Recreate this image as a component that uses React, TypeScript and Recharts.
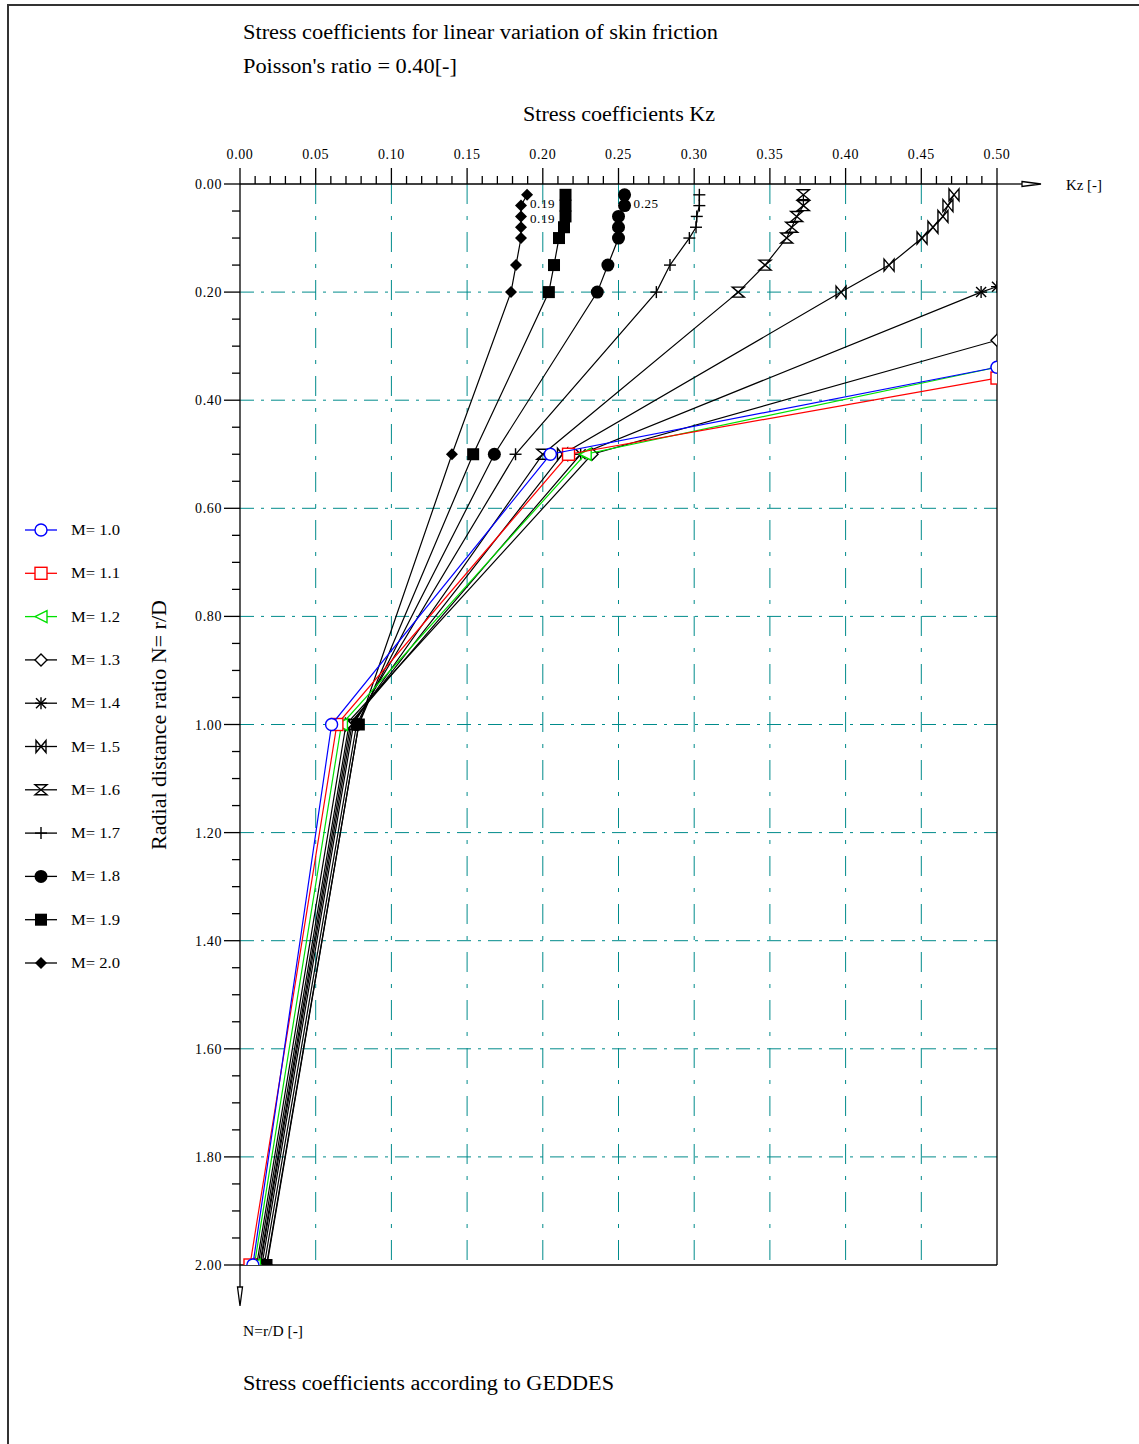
import React from 'react';
import { ScatterChart, Scatter, XAxis, YAxis, ReferenceLine } from 'recharts';

// depth ratios N = r/D used by the stiff-pile curves (M = 1.5 ... 2.0)
const depthFull = [0.02, 0.04, 0.06, 0.08, 0.10, 0.15, 0.20, 0.50, 1.00, 2.00];

// Kz per curve, matched to the depths above
const kzM20 = [0.1896, 0.1856, 0.1856, 0.1856, 0.1856, 0.1823, 0.179, 0.140, 0.0785, 0.0178];
const kzM19 = [0.215, 0.215, 0.215, 0.214, 0.2107, 0.2074, 0.204, 0.154, 0.0785, 0.0175];
const kzM18 = [0.254, 0.254, 0.250, 0.250, 0.250, 0.243, 0.236, 0.168, 0.077, 0.016];
const kzM17 = [0.3034, 0.3034, 0.3017, 0.3012, 0.2968, 0.284, 0.275, 0.182, 0.075, 0.0145];
const kzM16 = [0.3721, 0.3721, 0.3677, 0.3644, 0.3611, 0.3468, 0.3291, 0.200, 0.074, 0.0135];
const kzM15 = [0.4716, 0.4676, 0.4643, 0.4577, 0.4505, 0.4287, 0.397, 0.213, 0.073, 0.013];

// curves that leave the plot at Kz = 0.50 (start where they cross the border)
const depthM14 = [0.19, 0.20, 0.50, 1.00, 2.00];
const kzM14 = [0.50, 0.4895, 0.225, 0.072, 0.012];
const depthM13 = [0.289, 0.50, 1.00, 2.00];
const kzM13 = [0.50, 0.2325, 0.070, 0.011];
const depthM12 = [0.339, 0.50, 1.00, 2.00];
const kzM12 = [0.50, 0.228, 0.067, 0.0095];
const depthM11 = [0.359, 0.50, 1.00, 2.00];
const kzM11 = [0.50, 0.217, 0.064, 0.0066];
const depthM10 = [0.339, 0.50, 1.00, 2.00];
const kzM10 = [0.50, 0.205, 0.0605, 0.0085];

// points annotated with their value
const taggedM20 = [0.04, 0.06];
const taggedM18 = [0.04];

const kzGrid = [0.05, 0.10, 0.15, 0.20, 0.25, 0.30, 0.35, 0.40, 0.45];
const nGrid = [0.2, 0.4, 0.6, 0.8, 1.0, 1.2, 1.4, 1.6, 1.8];

// every 0.01 on Kz and every 0.05 on N; labels only on the major ones
const kzTicks = Array.from({ length: 51 }, (_, i) => i / 100);
const nTicks = Array.from({ length: 41 }, (_, i) => i / 20);

type Pt = { kz: number; n: number; tag?: boolean; tagIdx?: number };

const build = (depths: number[], kz: number[], tagged: number[] = []): Pt[] =>
  depths.map((n, i) => ({ kz: kz[i], n, tag: tagged.includes(n), tagIdx: tagged.indexOf(n) }));

type Kind = 'circle' | 'square' | 'triangle' | 'diamond' | 'star' | 'bowtie' | 'hourglass' | 'plus' | 'disc' | 'block' | 'gem';

const series: { name: string; color: string; kind: Kind; data: Pt[] }[] = [
  { name: 'M= 1.0', color: '#0000ff', kind: 'circle', data: build(depthM10, kzM10) },
  { name: 'M= 1.1', color: '#ff0000', kind: 'square', data: build(depthM11, kzM11) },
  { name: 'M= 1.2', color: '#00e000', kind: 'triangle', data: build(depthM12, kzM12) },
  { name: 'M= 1.3', color: '#000000', kind: 'diamond', data: build(depthM13, kzM13) },
  { name: 'M= 1.4', color: '#000000', kind: 'star', data: build(depthM14, kzM14) },
  { name: 'M= 1.5', color: '#000000', kind: 'bowtie', data: build(depthFull, kzM15) },
  { name: 'M= 1.6', color: '#000000', kind: 'hourglass', data: build(depthFull, kzM16) },
  { name: 'M= 1.7', color: '#000000', kind: 'plus', data: build(depthFull, kzM17) },
  { name: 'M= 1.8', color: '#000000', kind: 'disc', data: build(depthFull, kzM18, taggedM18) },
  { name: 'M= 1.9', color: '#000000', kind: 'block', data: build(depthFull, kzM19) },
  { name: 'M= 2.0', color: '#000000', kind: 'gem', data: build(depthFull, kzM20, taggedM20) },
];

const FONT = '"Liberation Serif", "Times New Roman", serif';
const GRID = '#008b8b';

function Marker({ kind, cx, cy, color }: { kind: Kind; cx: number; cy: number; color: string }) {
  const sw = 1.4;
  switch (kind) {
    case 'circle':
      return <circle cx={cx} cy={cy} r={6} fill="#fff" stroke={color} strokeWidth={sw} />;
    case 'square':
      return <rect x={cx - 6} y={cy - 6} width={12} height={12} fill="#fff" stroke={color} strokeWidth={sw} />;
    case 'triangle':
      return <polygon points={`${cx - 6},${cy} ${cx + 6},${cy - 6} ${cx + 6},${cy + 6}`} fill="#fff" stroke={color} strokeWidth={sw} />;
    case 'diamond':
      return <polygon points={`${cx},${cy - 6} ${cx + 6},${cy} ${cx},${cy + 6} ${cx - 6},${cy}`} fill="#fff" stroke={color} strokeWidth={sw} />;
    case 'star':
      return (
        <g stroke={color} strokeWidth={sw}>
          <line x1={cx} y1={cy - 6} x2={cx} y2={cy + 6} />
          <line x1={cx - 6} y1={cy} x2={cx + 6} y2={cy} />
          <line x1={cx - 5} y1={cy - 5} x2={cx + 5} y2={cy + 5} />
          <line x1={cx - 5} y1={cy + 5} x2={cx + 5} y2={cy - 5} />
        </g>
      );
    case 'bowtie':
      return <path d={`M${cx - 5},${cy - 6}L${cx - 5},${cy + 6}L${cx + 5},${cy - 6}L${cx + 5},${cy + 6}Z`} fill="none" stroke={color} strokeWidth={sw} />;
    case 'hourglass':
      return <path d={`M${cx - 6},${cy - 5}L${cx + 6},${cy - 5}L${cx - 6},${cy + 5}L${cx + 6},${cy + 5}Z`} fill="none" stroke={color} strokeWidth={sw} />;
    case 'plus':
      return (
        <g stroke={color} strokeWidth={sw}>
          <line x1={cx} y1={cy - 6} x2={cx} y2={cy + 6} />
          <line x1={cx - 6} y1={cy} x2={cx + 6} y2={cy} />
        </g>
      );
    case 'disc':
      return <circle cx={cx} cy={cy} r={6.5} fill={color} />;
    case 'block':
      return <rect x={cx - 6} y={cy - 6} width={12} height={12} fill={color} />;
    case 'gem':
      return <polygon points={`${cx},${cy - 6} ${cx + 6},${cy} ${cx},${cy + 6} ${cx - 6},${cy}`} fill={color} />;
  }
  return null;
}

const isMajor = (v: number, step: number) => Math.abs(v / step - Math.round(v / step)) < 1e-6;

const KzTick = (props: any) => {
  const { x, y, payload } = props;
  const major = isMajor(payload.value, 0.05);
  return (
    <g>
      <line x1={x} x2={x} y1={y} y2={y - (major ? 16 : 8)} stroke="#000" strokeWidth={1.3} />
      {major && (
        <text x={x} y={y - 25} textAnchor="middle" fontFamily={FONT} fontSize={14} letterSpacing={0.6} fill="#000">
          {payload.value.toFixed(2)}
        </text>
      )}
    </g>
  );
};

const NTick = (props: any) => {
  const { x, y, payload } = props;
  const major = isMajor(payload.value, 0.2);
  return (
    <g>
      <line x1={x} x2={x - (major ? 16 : 8)} y1={y} y2={y} stroke="#000" strokeWidth={1.3} />
      {major && (
        <text x={x - 18} y={y + 5} textAnchor="end" fontFamily={FONT} fontSize={14} letterSpacing={0.6} fill="#000">
          {payload.value.toFixed(2)}
        </text>
      )}
    </g>
  );
};

function LegendBox() {
  return (
    <svg width={140} height={480} style={{ position: 'absolute', left: 0, top: 505 }}>
      {series.map((s, i) => {
        const cy = 25 + i * 43.3;
        return (
          <g key={s.name}>
            <line x1={25} x2={57} y1={cy} y2={cy} stroke={s.color} strokeWidth={1.3} />
            <Marker kind={s.kind} cx={41} cy={cy} color={s.color} />
            <text x={71} y={cy + 5} fontFamily={FONT} fontSize={15} textLength={49} lengthAdjust="spacingAndGlyphs" fill="#000">
              {s.name}
            </text>
          </g>
        );
      })}
    </svg>
  );
}

export default function App() {
  const drawOrder = [...series].reverse();
  return (
    <div style={{ position: 'absolute', left: 0, top: 0, width: 1139, height: 1444, background: '#fff', overflow: 'hidden', fontFamily: FONT }}>
      <div style={{ position: 'absolute', left: 7, top: 4, width: 1200, height: 1500, borderLeft: '2px solid #333', borderTop: '2px solid #333' }} />
      <ScatterChart width={1139} height={1444} margin={{ top: 144, left: 180, right: 142, bottom: 179 }} style={{ position: 'absolute', left: 0, top: 0 }}>
        <XAxis
          xAxisId={0}
          type="number"
          dataKey="kz"
          orientation="top"
          domain={[0, 0.5]}
          ticks={kzTicks}
          interval={0}
          height={40}
          tickSize={0}
          tickMargin={0}
          tick={<KzTick />}
          axisLine={{ stroke: '#000', strokeWidth: 1.3 }}
          tickLine={false}
          allowDataOverflow
        />
        <YAxis
          yAxisId={0}
          type="number"
          dataKey="n"
          reversed
          domain={[0, 2]}
          ticks={nTicks}
          interval={0}
          width={60}
          tickSize={0}
          tickMargin={0}
          tick={<NTick />}
          axisLine={{ stroke: '#000', strokeWidth: 1.3 }}
          tickLine={false}
          allowDataOverflow
        />
        {kzGrid.map((v) => (
          <ReferenceLine key={'gx' + v} x={v} stroke={GRID} strokeWidth={1} strokeDasharray="20 12 4 12" />
        ))}
        {nGrid.map((v) => (
          <ReferenceLine key={'gy' + v} y={v} stroke={GRID} strokeWidth={1} strokeDasharray="14 7 3 7" />
        ))}
        <ReferenceLine x={0.5} stroke="#000" strokeWidth={1.3} />
        <ReferenceLine y={2} stroke="#000" strokeWidth={1.3} />
        {drawOrder.map((s) => (
          <Scatter
            key={s.name}
            name={s.name}
            data={s.data}
            line={{ stroke: s.color, strokeWidth: 1.2 }}
            lineType="joint"
            isAnimationActive={false}
            shape={(p: any) => {
              const d = p.payload ?? p;
              // stacked value labels are nudged apart so they stay readable
              const nudge = d.tagIdx === 0 ? 2 : 7;
              return (
                <g>
                  <Marker kind={s.kind} cx={p.cx} cy={p.cy} color={s.color} />
                  {d.tag && (
                    <text x={p.cx + 9} y={p.cy + nudge} fontFamily={FONT} fontSize={13} letterSpacing={0.6} fill="#000">
                      {d.kz.toFixed(2)}
                    </text>
                  )}
                </g>
              );
            }}
          />
        ))}
      </ScatterChart>
      <svg width={1139} height={1444} style={{ position: 'absolute', left: 0, top: 0, pointerEvents: 'none' }}>
        <g fontFamily={FONT} fill="#000">
          <text x={243} y={39} fontSize={20} textLength={475} lengthAdjust="spacingAndGlyphs">
            Stress coefficients for linear variation of skin friction
          </text>
          <text x={243} y={73} fontSize={20} textLength={214} lengthAdjust="spacingAndGlyphs">
            Poisson's ratio = 0.40[-]
          </text>
          <text x={523} y={121} fontSize={20} textLength={192} lengthAdjust="spacingAndGlyphs">
            Stress coefficients Kz
          </text>
          <text x={1066} y={190} fontSize={14} textLength={36} lengthAdjust="spacingAndGlyphs">Kz [-]</text>
          <text x={243} y={1336} fontSize={14} textLength={60} lengthAdjust="spacingAndGlyphs">N=r/D [-]</text>
          <text x={243} y={1390} fontSize={20} textLength={371} lengthAdjust="spacingAndGlyphs">
            Stress coefficients according to GEDDES
          </text>
          <text x={166} y={850} fontSize={20} textLength={250} lengthAdjust="spacingAndGlyphs" transform="rotate(-90 166 850)">
            Radial distance ratio N= r/D
          </text>
        </g>
        <line x1={997} x2={1022} y1={184} y2={184} stroke="#000" strokeWidth={1.3} />
        <polygon points="1022,181.5 1041,184 1022,186.5" fill="#fff" stroke="#000" strokeWidth={1.3} />
        <line x1={240} x2={240} y1={1265} y2={1287} stroke="#000" strokeWidth={1.3} />
        <polygon points="237.5,1287 240,1306 242.5,1287" fill="#fff" stroke="#000" strokeWidth={1.3} />
      </svg>
      <LegendBox />
    </div>
  );
}
